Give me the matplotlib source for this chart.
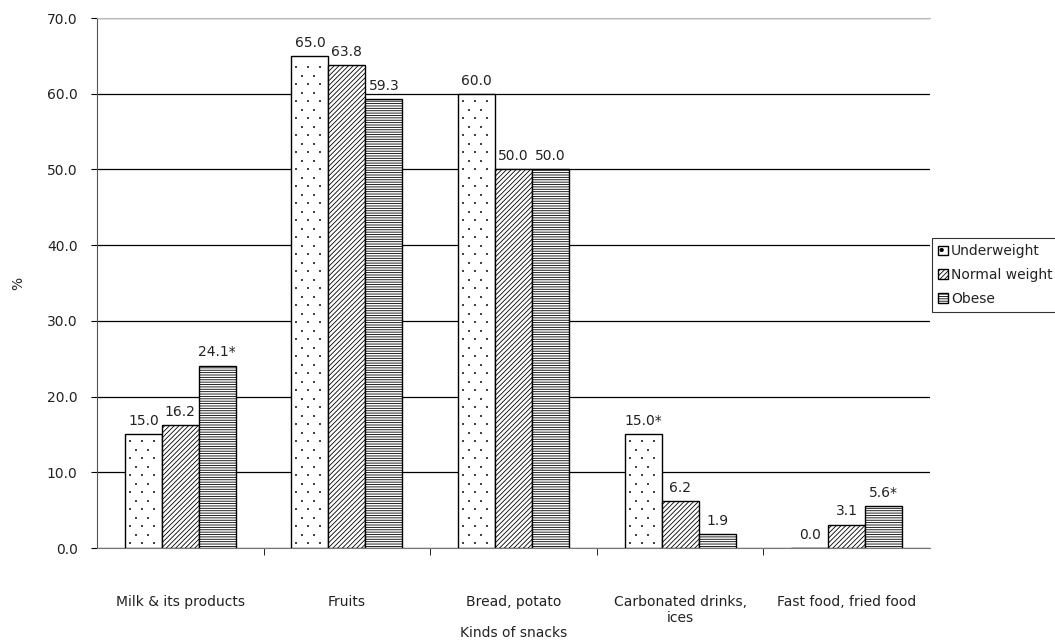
import matplotlib
matplotlib.use("Agg")
import matplotlib.pyplot as plt
from matplotlib.patches import Patch
from matplotlib.transforms import IdentityTransform
import numpy as np

categories = ["Milk & its products", "Fruits", "Bread, potato", "Carbonated drinks,\nices", "Fast food, fried food"]
underweight = [15.0, 65.0, 60.0, 15.0, 0.0]
normal = [16.2, 63.8, 50.0, 6.2, 3.1]
obese = [24.1, 59.3, 50.0, 1.9, 5.6]
under_lbl = ["15.0", "65.0", "60.0", "15.0*", "0.0"]
normal_lbl = ["16.2", "63.8", "50.0", "6.2", "3.1"]
obese_lbl = ["24.1*", "59.3", "50.0", "1.9", "5.6*"]
series_names = ["Underweight", "Normal weight", "Obese"]

plt.rcParams['font.family'] = ['DejaVu Sans']
plt.rcParams['hatch.linewidth'] = 0.6

fig = plt.figure(figsize=(10.55, 6.43), dpi=100)
ax = fig.add_axes([97/1055, 1-548/643, (930-97)/1055, (548-18)/643])

x = np.arange(len(categories))
w = 0.222
fs = 10
tc = '#222222'
series = [(underweight, under_lbl, ''), (normal, normal_lbl, '///////'), (obese, obese_lbl, '-------')]
bars_all = []
for i, (vals, lbls, hatch) in enumerate(series):
    bars = ax.bar(x + (i-1)*w, vals, w, color='white', edgecolor='black', linewidth=1.0,
                  hatch=hatch, label=series_names[i], zorder=3)
    bars_all.append(bars)
    for b, v, l in zip(bars, vals, lbls):
        ax.text(b.get_x()+b.get_width()/2, v + 0.8, l, ha='center', va='bottom', fontsize=fs, color=tc)

ax.set_xlim(-0.5, len(categories)-0.5)
ax.set_ylim(0, 70)

# sparse dot texture for the underweight bars, derived from bar geometry
fig.canvas.draw()
px, py = [], []
for b in bars_all[0]:
    if b.get_height() <= 0:
        continue
    (x0, y0), (x1, y1) = ax.transData.transform([(b.get_x(), 0), (b.get_x()+b.get_width(), b.get_height())])
    row = 0
    yy = y0 + 5
    while yy < y1 - 3:
        off = 5 if row % 2 == 0 else 11
        xx = x0 + off
        while xx < x1 - 3:
            px.append(xx); py.append(yy)
            xx += 12
        yy += 8.5
        row += 1
ax.scatter(px, py, s=1.2, color='#444444', marker='s', linewidths=0, transform=IdentityTransform(), zorder=4, clip_on=False)

ax.set_yticks(np.arange(0, 71, 10))
ax.set_yticklabels([f"{v:.1f}" for v in np.arange(0, 71, 10)], fontsize=fs, color=tc)
ax.yaxis.grid(True, color='black', linewidth=0.9, zorder=0)
ax.set_axisbelow(True)
ax.set_xticks(x)
ax.set_xticklabels(categories, fontsize=fs, color=tc)
ax.tick_params(axis='x', length=0, pad=34)
ax.set_xticks(np.arange(0.5, len(categories)-1, 1), minor=True)
ax.tick_params(axis='x', which='minor', length=5, direction='out')
ax.tick_params(axis='y', length=4, direction='out', pad=10)
ax.spines['right'].set_visible(False)
ax.spines['top'].set_color('#bbbbbb')
ax.spines['bottom'].set_color('#777777')
ax.spines['left'].set_color('#555555')

fig.text(18/1055, 1-283/643, "%", ha='center', va='center', fontsize=fs, rotation=90, color=tc)
fig.text((97+930)/2/1055, 1-633/643, "Kinds of snacks", ha='center', va='center', fontsize=fs, color=tc)

handles = [Patch(facecolor='white', edgecolor='black', hatch='.', linewidth=1.0),
           Patch(facecolor='white', edgecolor='black', hatch='///////', linewidth=1.0),
           Patch(facecolor='white', edgecolor='black', hatch='-------', linewidth=1.0)]
leg = fig.legend(handles=handles, labels=series_names, loc='upper left',
                 bbox_to_anchor=(932/1055, 1-238/643), fontsize=fs, frameon=True,
                 fancybox=False, edgecolor='black', handlelength=0.7, handleheight=0.7,
                 handletextpad=0.2, borderaxespad=0, labelspacing=0.7, borderpad=0.45)
leg.get_frame().set_linewidth(0.8)
for t in leg.get_texts():
    t.set_color(tc)

fig.savefig("out.png", dpi=100)
